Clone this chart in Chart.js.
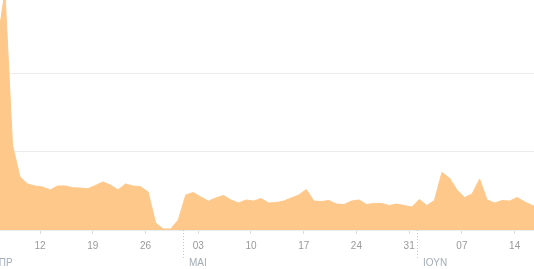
<!DOCTYPE html>
<html>
<head>
<meta charset="utf-8">
<script src="https://cdn.jsdelivr.net/npm/chart.js@4.4.0/dist/chart.umd.min.js"></script>
<style>
  html, body { margin: 0; padding: 0; background: #fff; }
  canvas { display: block; }
</style>
</head>
<body>
<canvas id="myChart" width="534" height="269"></canvas>
<script>
'use strict';

// day numbers: 1 = 1 April, 31 = 1 May, 62 = 1 June
const firstDay = 6;
const visits = [
  240, 303, 108, 67.5, 58.6, 56.1, 54.8, 51, 56.1, 56.1,
  53.9, 53.5, 52.6, 56.7, 61.2, 57.3, 51, 58.6, 56.1, 55.2,
  48.4, 8.9, 1.3, 1.3, 12.7, 44.6, 47.8, 42, 36.9, 40.8,
  44, 38.2, 34.4, 38.2, 36.9, 40.1, 34.4, 35, 36.9, 40.8,
  44.6, 51.6, 36.9, 36.3, 37.6, 33.1, 32.5, 36.9, 38.2, 32.5,
  33.8, 33.8, 31.2, 33.1, 31.2, 29.3, 38.9, 31.2, 37.6, 73.3,
  66.2, 51, 41.4, 45.9, 65, 38.2, 34.4, 37.6, 36.9, 41.4,
  35.7, 31.2, 29.3
];
const tickDays = [12, 19, 26, 33, 40, 47, 54, 61, 68, 75];
const tickLabels = ['12', '19', '26', '03', '10', '17', '24', '31', '07', '14'];
const monthStarts = [1, 31, 62];
const monthNames = ['ΑΠΡ', 'ΜΑΙ', 'ΙΟΥΝ'];
const gridValues = [0, 100, 200];

// ticks sit a little before the daily points
const tickShift = -0.35;
const labelFont = '10px "Liberation Sans", Arial, sans-serif';

const points = visits.map((v, i) => ({ x: firstDay + i, y: v }));

const monthMarks = {
  id: 'monthMarks',
  afterDraw(chart) {
    const ctx = chart.ctx;
    const xScale = chart.scales.x;
    const bottom = chart.chartArea.bottom;
    ctx.save();
    ctx.strokeStyle = '#c4c8cc';
    ctx.lineWidth = 1;
    ctx.setLineDash([1, 2]);
    ctx.font = labelFont;
    ctx.fillStyle = '#a4adb8';
    ctx.textBaseline = 'middle';
    ctx.textAlign = 'left';
    for (let i = 0; i < monthStarts.length; i++) {
      const x = Math.round(xScale.getPixelForValue(monthStarts[i] + tickShift)) + 0.5;
      ctx.beginPath();
      ctx.moveTo(x, bottom);
      ctx.lineTo(x, bottom + 28);
      ctx.stroke();
      ctx.fillText(monthNames[i], Math.max(x + 5.5, -8), bottom + 33);
    }
    ctx.restore();
  }
};

const config = {
  type: 'line',
  data: {
    datasets: [{
      data: points,
      fill: 'origin',
      backgroundColor: '#ffc88b',
      borderColor: '#ffc88b',
      borderWidth: 1,
      pointRadius: 0,
      tension: 0
    }]
  },
  options: {
    responsive: false,
    animation: false,
    layout: { padding: 0 },
    plugins: { legend: { display: false }, tooltip: { enabled: false } },
    scales: {
      x: {
        type: 'linear',
        min: 6.34,
        max: 77.22,
        afterBuildTicks: (scale) => {
          scale.ticks = tickDays.map(d => ({ value: d + tickShift }));
        },
        afterFit: (scale) => { scale.height = 39; },
        border: { display: false },
        grid: {
          drawOnChartArea: false,
          drawTicks: true,
          tickLength: 4,
          color: '#dcdcdc'
        },
        ticks: {
          autoSkip: false,
          maxRotation: 0,
          padding: 6,
          color: '#9a9a9a',
          font: { family: '"Liberation Sans", Arial, sans-serif', size: 10 },
          callback: (value, index) => tickLabels[index]
        }
      },
      y: {
        min: 0,
        max: 293,
        afterBuildTicks: (scale) => {
          scale.ticks = gridValues.map(v => ({ value: v }));
        },
        border: { display: false },
        grid: { drawTicks: false, color: '#ececec' },
        ticks: { display: false }
      }
    }
  },
  plugins: [monthMarks]
};

const myChart = new Chart(document.getElementById('myChart'), config);
</script>
</body>
</html>
